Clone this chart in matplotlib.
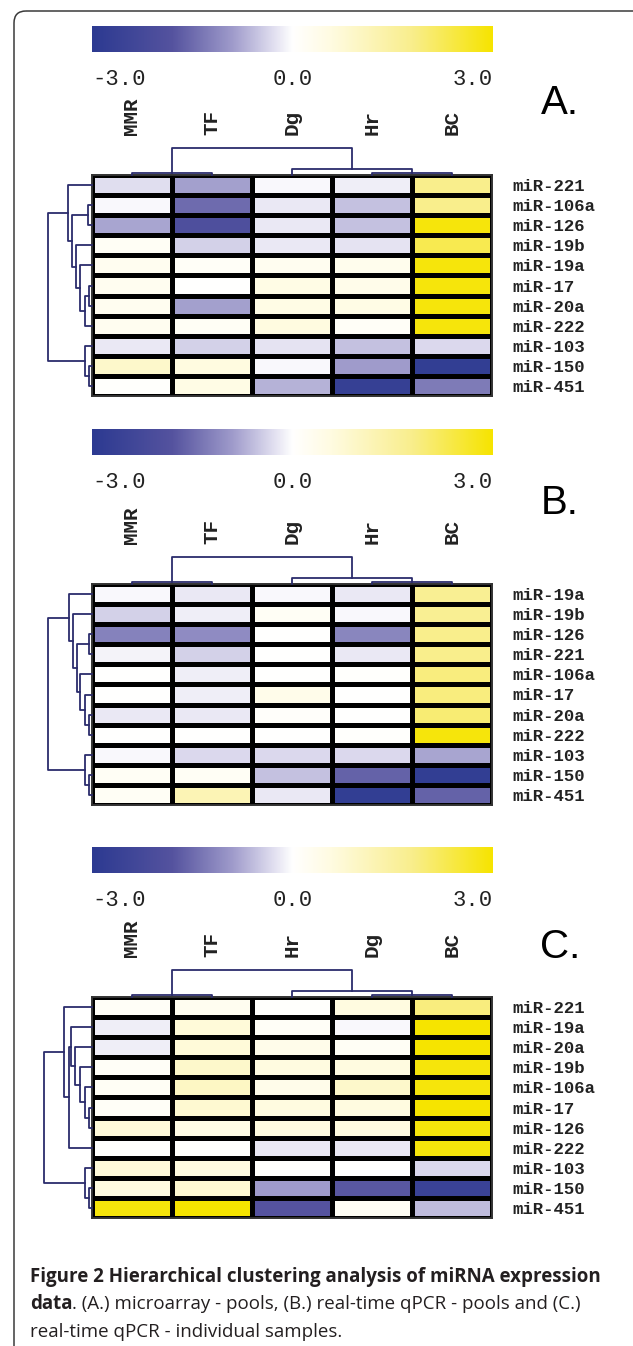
import matplotlib.pyplot as plt
import numpy as np
from matplotlib.colors import LinearSegmentedColormap
from matplotlib.patches import FancyBboxPatch

# ---- data -------------------------------------------------------------
samples_a = ['MMR', 'TF', 'Dg', 'Hr', 'BC']
samples_b = ['MMR', 'TF', 'Dg', 'Hr', 'BC']
samples_c = ['MMR', 'TF', 'Hr', 'Dg', 'BC']

mirs_a = ['miR-221', 'miR-106a', 'miR-126', 'miR-19b', 'miR-19a', 'miR-17',
          'miR-20a', 'miR-222', 'miR-103', 'miR-150', 'miR-451']
mirs_b = ['miR-19a', 'miR-19b', 'miR-126', 'miR-221', 'miR-106a', 'miR-17',
          'miR-20a', 'miR-222', 'miR-103', 'miR-150', 'miR-451']
mirs_c = ['miR-221', 'miR-19a', 'miR-20a', 'miR-19b', 'miR-106a', 'miR-17',
          'miR-126', 'miR-222', 'miR-103', 'miR-150', 'miR-451']

vals_a = [[-0.3, -0.85, -0.05, -0.15, 1.8],
          [-0.05, -1.5, -0.2, -0.55, 1.8],
          [-0.8, -2.0, -0.2, -0.55, 2.9],
          [0.2, -0.4, -0.2, -0.25, 2.3],
          [0.3, 0.15, 0.3, 0.35, 2.9],
          [0.3, 0.0, 0.5, 0.4, 2.9],
          [0.3, -0.85, 0.5, 0.5, 2.9],
          [0.3, 0.2, 0.6, 0.15, 2.9],
          [-0.2, -0.4, -0.25, -0.55, -0.35],
          [0.9, 0.6, -0.05, -0.9, -2.8],
          [0.05, 0.5, -0.7, -2.7, -1.3]]
vals_b = [[-0.05, -0.2, -0.05, -0.2, 1.7],
          [-0.4, -0.15, 0.2, -0.05, 1.7],
          [-1.2, -1.1, 0.0, -1.15, 1.8],
          [-0.1, -0.4, 0.0, -0.2, 1.8],
          [0.0, -0.15, 0.0, 0.05, 1.9],
          [0.0, -0.15, 0.4, 0.0, 1.9],
          [-0.2, -0.2, 0.1, 0.0, 2.0],
          [0.0, 0.0, 0.0, 0.05, 2.9],
          [-0.05, -0.35, -0.35, -0.35, -0.8],
          [0.2, 0.2, -0.55, -1.6, -2.8],
          [0.2, 1.2, -0.2, -2.8, -1.6]]
vals_c = [[0.15, 0.3, 0.05, 0.6, 1.9],
          [-0.15, 0.7, 0.15, -0.05, 3.0],
          [-0.15, 0.7, 0.4, 0.2, 3.0],
          [0.15, 0.9, 0.6, 0.6, 2.9],
          [0.2, 1.0, 0.4, 0.9, 2.9],
          [0.15, 0.8, 0.6, 0.6, 3.0],
          [0.7, 0.5, 0.6, 0.6, 2.9],
          [0.05, 0.05, -0.2, -0.2, 2.9],
          [0.7, 0.6, 0.05, 0.0, -0.35],
          [0.6, 0.8, -0.9, -1.75, -2.6],
          [2.9, 3.0, -1.8, 0.2, -0.6]]

# merges (child, child, height); new nodes are numbered after the leaves
row_links_a = [(1, 2, 0.09), (5, 6, 0.07), (12, 7, 0.17), (4, 13, 0.28),
               (3, 14, 0.37), (11, 15, 0.45), (0, 16, 0.55), (9, 10, 0.07),
               (8, 18, 0.17), (17, 19, 1.0)]
row_links_b = [(2, 3, 0.06), (6, 7, 0.06), (5, 12, 0.17), (4, 13, 0.27),
               (11, 14, 0.34), (1, 15, 0.43), (0, 16, 0.52), (9, 10, 0.06),
               (8, 18, 0.17), (17, 19, 1.0)]
row_links_c = [(5, 6, 0.07), (4, 11, 0.17), (3, 12, 0.28), (2, 13, 0.39),
               (1, 14, 0.47), (15, 7, 0.52), (0, 16, 0.64), (9, 10, 0.07),
               (8, 18, 0.17), (17, 19, 1.10)]
col_links = [(0, 1, 0.06), (3, 4, 0.06), (2, 6, 0.24), (5, 7, 1.0)]

cbar_ticks = [-3.0, 0.0, 3.0]
panel_names = ['A.', 'B.', 'C.']

# ---- figure -----------------------------------------------------------
W, H = 633, 1346
fig = plt.figure(figsize=(W / 100, H / 100), dpi=100)
fig.patch.set_facecolor('white')

cmap = LinearSegmentedColormap.from_list('by', [
    (0.0, '#2c3a91'), (0.2, '#55539f'), (0.35, '#9f9bcb'), (0.45, '#dfddef'),
    (0.5, '#ffffff'), (0.6, '#fffbe0'), (0.8, '#f9ee8c'), (1.0, '#f6e400')])
dcol = '#2b2c6c'
mono = 'Liberation Mono'


def px_axes(x, y, w, h):
    return fig.add_axes([x / W, 1 - (y + h) / H, w / W, h / H])


def tree_segments(n, links):
    pos = list(np.arange(n) + 0.5)
    hgt = [0.0] * n
    segs = []
    for a, b, d in links:
        segs.append(([hgt[a], d, d, hgt[b]], [pos[a], pos[a], pos[b], pos[b]]))
        pos.append((pos[a] + pos[b]) / 2)
        hgt.append(d)
    return segs


bg = fig.add_axes([0, 0, 1, 1], zorder=-5)
bg.set_xlim(0, W)
bg.set_ylim(H, 0)
bg.axis('off')
bg.add_patch(FancyBboxPatch((14, 11), 660, 1400,
                            boxstyle='round,pad=0,rounding_size=12',
                            fill=False, ec='#3a3a3a', lw=1.1))

# per panel layout: heatmap top, colorbar top, letter y
tops = [175, 584, 997]
cb_tops = [26, 429, 847]
letter_y = [103, 503, 947]
panels = [(samples_a, mirs_a, vals_a, row_links_a),
          (samples_b, mirs_b, vals_b, row_links_b),
          (samples_c, mirs_c, vals_c, row_links_c)]

hm_x, hm_w = 92, 400
for k, (samples, mirs, vals, rlinks) in enumerate(panels):
    top = tops[k]
    n = len(mirs)
    hm_h = 221

    # colour bar
    cax = px_axes(hm_x, cb_tops[k], hm_w + 1, 26)
    cax.imshow(np.linspace(-3, 3, 256)[None, :], aspect='auto', cmap=cmap,
               extent=[-3, 3, 0, 1])
    cax.axis('off')
    for v, ha in zip(cbar_ticks, ['left', 'center', 'right']):
        cax.text(v, -1.05, '%.1f' % v, ha=ha, va='center', fontsize=16,
                 family=mono, color='#222222',
                 transform=cax.get_xaxis_transform())

    # heatmap
    ax = px_axes(hm_x, top, hm_w, hm_h)
    ax.pcolormesh(np.array(vals), cmap=cmap, vmin=-3, vmax=3,
                  edgecolors='black', linewidth=2.5)
    ax.set_xlim(0, len(samples))
    ax.set_ylim(n, 0)
    ax.set_yticks(np.arange(n) + 0.5, labels=mirs)
    ax.yaxis.tick_right()
    ax.set_xticks(np.arange(len(samples)) + 0.5, labels=samples)
    ax.xaxis.tick_top()
    ax.tick_params(axis='y', length=0, pad=15, labelsize=12.5)
    ax.tick_params(axis='x', length=0, pad=29, labelsize=15, labelrotation=90)
    for lab in ax.get_yticklabels() + ax.get_xticklabels():
        lab.set_family(mono)
        lab.set_weight('bold')
        lab.set_color('#222222')
    for sp in ax.spines.values():
        sp.set_color('#333333')
        sp.set_linewidth(1.4)

    # row dendrogram
    rax = px_axes(40, top, 52, hm_h)
    rax.set_xlim(1.18, 0)
    rax.set_ylim(n, 0)
    rax.axis('off')
    for xs, ys in tree_segments(n, rlinks):
        rax.plot(xs, ys, color=dcol, lw=1.3, clip_on=False)

    # column dendrogram
    tax = px_axes(hm_x, top - 30, hm_w, 30)
    tax.set_xlim(0, len(samples))
    tax.set_ylim(0, 30 / 27)
    tax.axis('off')
    for hs, ps in tree_segments(len(samples), col_links):
        tax.plot(ps, hs, color=dcol, lw=1.3, clip_on=False)

    fig.text(560 / W, 1 - letter_y[k] / H, panel_names[k], fontsize=29,
             family='Liberation Sans', ha='center', va='center', color='black')

# caption
cap_font = 'Open Sans'
cap_size = 13.5
ccol = '#231f20'
bg.text(30, 1277, 'Figure 2 Hierarchical clustering analysis of miRNA expression',
        fontsize=cap_size, family=cap_font, weight='bold', color=ccol, va='center')
t = bg.text(30, 1304, 'data', fontsize=cap_size, family=cap_font, weight='bold',
            color=ccol, va='center')
bg.annotate('. (A.) microarray - pools, (B.) real-time qPCR - pools and (C.)',
            xy=(1, 0.5), xycoords=t, va='center', ha='left', fontsize=cap_size,
            family=cap_font, color=ccol)
bg.text(30, 1332, 'real-time qPCR - individual samples.', fontsize=cap_size,
        family=cap_font, color=ccol, va='center')

fig.savefig('out.png', dpi=100)
